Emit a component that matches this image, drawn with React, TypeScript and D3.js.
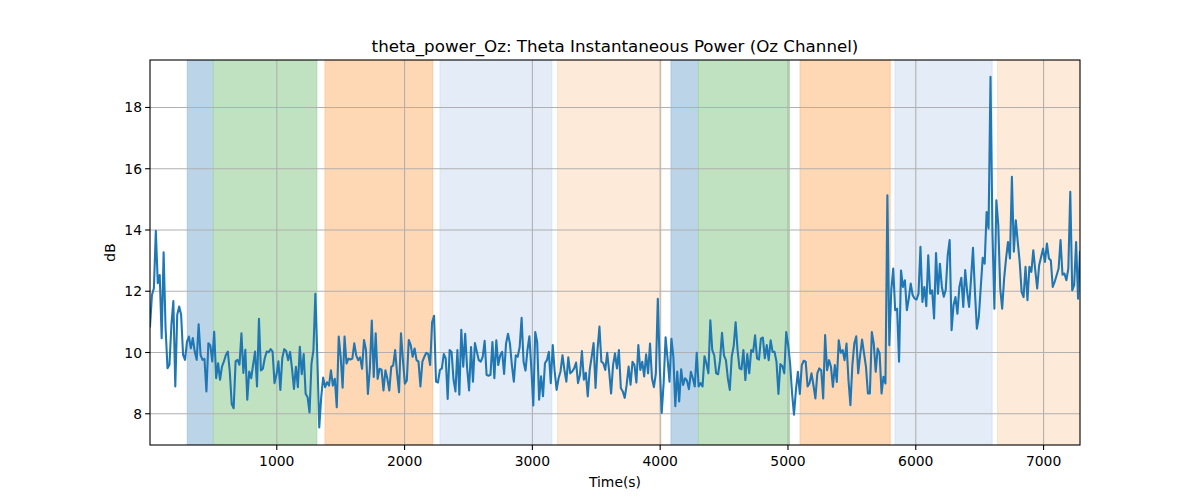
import React from "react";
import * as d3 from "d3";

// ---- Data ----
const T_START = 8;
const T_END = 7285;

const seg1 = [10.85,11.88,12.1,13.97,12.26,12.53,10.47,13.27,10.8,9.49,9.6,10.9,11.68,8.89,11.23,11.5,11.23,9.92,9.76,10.35,10.52,10.14,10.47,10.03,9.76,10.92,9.92,9.76,9.79,8.73,10.3,10.23,9.71,10.68,9.16,9.65,9.11,9.54,9.71,9.92,10.03,9.38,8.32,8.18,9.71,9.76,9.6,10.63,9.33,10.09,8.46,9.38,9.16,9.6,10.03,8.89,11.1,9.41,9.47,9.82,10.03,10.01,10.11,10.03,9.0,9.27,9.71,8.78,9.82];
const seg2 = [10.11,10.05,9.75,10.02,9.47,8.81,9.53,8.87,10.19,9.29,9.95,8.65,8.54,8.04,9.64,10.08,11.92,9.86,7.55,8.54,9.18,8.87,9.03,8.92,9.42,8.92,9.14,8.21,10.52,9.86,8.85,10.52,9.64,9.8,9.77,9.8,10.3,9.91,9.75,9.84,9.47,10.41,10.08,8.65,9.47,11.04,9.2,10.63,9.14,9.47,9.44,8.76,9.42,9.14,8.76,9.53,9.58,10.08,9.31,8.7,10.63,9.75,8.98,9.09,10.41,10.24,9.86,10.13,9.75];
const seg3 = [9.7,8.89,9.7,9.86,9.99,9.95,9.59,10.99,11.2,9.05,9.02,9.43,9.48,9.95,9.81,8.48,10.08,10.02,9.11,8.73,10.08,8.62,10.74,9.54,10.61,9.48,8.76,10.18,9.05,10.31,10.02,9.75,9.7,9.86,10.38,9.27,9.24,9.27,10.34,9.16,10.4,9.59,9.91,10.02,9.3,10.29,10.61,10.29,9.59,9.05,9.91,9.86,10.18,11.13,9.7,9.41,10.08,10.53,9.48,8.27,10.67,10.34,8.46,9.22,8.57,9.65,9.75];
const seg4 = [10.02,9.0,10.24,9.38,8.78,9.16,9.38,9.91,9.43,9.05,9.84,9.32,9.38,9.48,9.67,9.0,9.27,10.05,9.11,9.34,8.57,9.43,9.86,10.31,8.84,10.08,10.85,9.7,9.65,9.43,9.99,9.38,8.66,9.59,9.97,9.48,10.08,8.84,8.73,8.52,8.95,9.54,8.95,9.7,9.59,9.02,10.24,9.43,9.7,9.22,9.94,9.32,10.29,9.16,8.87,9.32,11.75,9.54,8.03,9.0,10.5,9.81,9.05,10.45,9.86,8.25,9.38];
const seg5 = [8.4,9.45,8.94,9.16,9.08,8.8,9.37,9.16,8.89,9.99,8.89,9.0,8.89,9.88,9.64,9.32,11.05,10.08,9.91,9.32,9.29,9.75,10.64,9.91,9.75,9.16,8.78,9.86,10.21,10.99,10.08,9.48,9.45,10.08,9.1,9.95,9.32,10.08,10.02,10.56,9.81,9.77,10.45,10.49,9.81,10.24,9.75,10.4,10.02,10.02,9.7,8.65,9.62,9.56,9.32,10.67,10.24,9.64,8.67,7.97,8.78,9.37,8.65,9.59,9.73,9.7,8.89,9.0,9.32];
const seg6 = [8.93,8.5,9.32,9.48,9.42,8.5,10.57,9.42,9.75,9.53,8.88,9.59,9.04,10.4,9.99,10.08,9.75,10.29,9.1,8.28,9.59,10.29,10.53,9.32,9.91,10.42,9.97,9.53,8.66,8.66,10.67,10.29,9.37,10.13,9.97,8.66,9.21,8.99,15.13,10.24,12.03,12.74,11.38,11.43,9.7,12.68,12.14,12.36,11.38,11.76,12.25,11.87,11.76,11.73,11.92,13.45,11.65,12.14,11.51,13.17,11.92,12.03,11.11,13.25,11.92,12.9,12.14,11.82,12.05,13.17];
const seg7 = [13.67,10.73,11.54,11.81,11.27,12.14,12.44,11.49,12.69,11.98,11.49,12.41,13.42,11.98,10.78,11.16,12.14,13.09,12.9,14.59,14.05,19.0,13.94,11.43,14.97,14.16,12.09,11.43,12.41,13.07,13.61,13.07,15.74,13.29,14.32,13.61,12.96,11.98,11.81,12.8,11.71,12.8,12.63,13.34,12.69,12.09,12.85,13.12,13.39,12.96,13.56,13.07,13.01,12.14,12.31,12.52,12.74,13.67,12.54,12.58,12.36,12.74,15.25,12.03,12.2,13.61,11.76,13.29];

const values = [...seg1, ...seg2, ...seg3, ...seg4, ...seg5, ...seg6, ...seg7];

const bandStarts = [300, 504, 1378, 2278, 3198, 4085, 4299, 5095, 5838, 6641];
const bandEnds = [504, 1313, 2220, 3152, 4007, 4299, 5011, 5799, 6597, 7400];
const bandColors = ["#bbd4e8", "#c0e2c0", "#fed7b5", "#e4ecf7", "#feead8", "#bbd4e8", "#c0e2c0", "#fed7b5", "#e4ecf7", "#feead8"];
const bandEdges = ["#a9c8e2", "#a8d8a8", "#fcc89a", "#d8e3f3", "#fde0c4", "#a9c8e2", "#a8d8a8", "#fcc89a", "#d8e3f3", "#fde0c4"];

const xTicks = [1000, 2000, 3000, 4000, 5000, 6000, 7000];
const yTicks = [8, 10, 12, 14, 16, 18];

const TITLE = "theta_power_Oz: Theta Instantaneous Power (Oz Channel)";
const X_LABEL = "Time(s)";
const Y_LABEL = "dB";

// ---- Layout ----
const W = 1200;
const H = 500;
const L = 150, R = 1080, T = 60, B = 445;
const FONT = "'DejaVu Sans', sans-serif";

export default function App() {
  const x = d3.scaleLinear().domain([T_START, T_END]).range([L, R]);
  const y = d3.scaleLinear().domain([6.98, 19.55]).range([B, T]);
  const n = values.length;
  const times = values.map((_, i) => T_START + (i * (T_END - T_START)) / (n - 1));
  const pts: [number, number][] = values.map((v, i) => [times[i], v]);
  const line = d3
    .line<[number, number]>()
    .x((d) => x(d[0]))
    .y((d) => y(d[1]));

  return (
    <svg width={W} height={H} style={{ display: "block", position: "absolute", left: 0, top: 0 }}>
      <rect x={0} y={0} width={W} height={H} fill="#ffffff" />
      <defs>
        <clipPath id="plotclip">
          <rect x={L} y={T} width={R - L} height={B - T} />
        </clipPath>
      </defs>
      <g clipPath="url(#plotclip)">
        {bandStarts.map((s, i) => (
          <rect
            key={i}
            x={x(s)}
            y={T}
            width={x(Math.min(bandEnds[i], T_END + 50)) - x(s)}
            height={B - T}
            fill={bandColors[i]}
            stroke={bandEdges[i]}
            strokeWidth={1}
          />
        ))}
        {xTicks.map((t) => (
          <line key={"gx" + t} x1={x(t)} x2={x(t)} y1={T} y2={B} stroke="#b0b0b0" strokeWidth={1.1} />
        ))}
        {yTicks.map((t) => (
          <line key={"gy" + t} x1={L} x2={R} y1={y(t)} y2={y(t)} stroke="#b0b0b0" strokeWidth={1.1} />
        ))}
        <path d={line(pts) || ""} fill="none" stroke="#1f77b4" strokeWidth={2.08} strokeLinejoin="round" strokeLinecap="square" />
      </g>
      <rect x={L} y={T} width={R - L} height={B - T} fill="none" stroke="#000" strokeWidth={1.1} />
      {xTicks.map((t) => (
        <g key={"tx" + t}>
          <line x1={x(t)} x2={x(t)} y1={B} y2={B + 4.9} stroke="#000" strokeWidth={1.1} />
          <text x={x(t)} y={B + 21} textAnchor="middle" fontFamily={FONT} fontSize={13.9} fill="#000">
            {t}
          </text>
        </g>
      ))}
      {yTicks.map((t) => (
        <g key={"ty" + t}>
          <line x1={L - 4.9} x2={L} y1={y(t)} y2={y(t)} stroke="#000" strokeWidth={1.1} />
          <text x={L - 8} y={y(t)} dy="0.36em" textAnchor="end" fontFamily={FONT} fontSize={13.9} fill="#000">
            {t}
          </text>
        </g>
      ))}
      <text x={(L + R) / 2} y={487} textAnchor="middle" fontFamily={FONT} fontSize={13.9} fill="#000">
        {X_LABEL}
      </text>
      <text
        transform={`translate(${115},${(T + B) / 2}) rotate(-90)`}
        textAnchor="middle"
        fontFamily={FONT}
        fontSize={13.9}
        fill="#000"
      >
        {Y_LABEL}
      </text>
      <text x={(L + R) / 2} y={52} textAnchor="middle" fontFamily={FONT} fontSize={16.7} fill="#000">
        {TITLE}
      </text>
    </svg>
  );
}
